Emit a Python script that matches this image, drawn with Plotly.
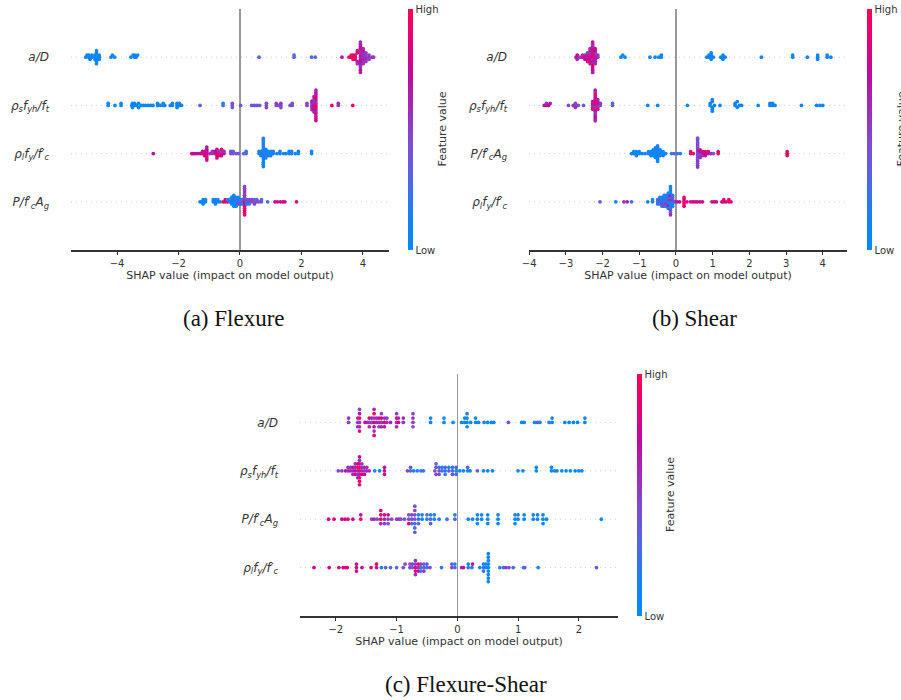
import numpy as np
import plotly.graph_objects as go

# ---------------- data: (SHAP value, normalised feature value) ----------------
# Panel (a) Flexure
flex_aD = [
    (-5.02, .05), (-4.98, .08),
    (-4.92, .05), (-4.92, .10), (-4.88, .05),
    (-4.82, .08), (-4.82, .05),
    (-4.72, .05), (-4.72, .10), (-4.72, .05),
    (-4.67, .05), (-4.67, .08), (-4.67, .05), (-4.67, .10), (-4.67, .05), (-4.67, .05), (-4.67, .08),
    (-4.58, .05), (-4.58, .10), (-4.58, .05),
    (-4.20, .05), (-4.15, .08), (-4.08, .05),
    (-3.55, .05), (-3.48, .08), (-3.43, .05), (-3.43, .05), (-3.38, .10), (-3.33, .05),
    (0.62, .30), (1.76, .35), (1.76, .30), (2.33, .30), (2.45, .28), (3.32, .70),
    (3.55, .95), (3.62, .95), (3.62, .90), (3.68, .95), (3.68, .92), (3.68, .95),
    (3.75, .90), (3.75, .95), (3.75, .85),
    (3.82, .85), (3.82, .65), (3.82, .90), (3.82, .60),
    (3.92, .55), (3.92, .65), (3.92, .70), (3.92, .60), (3.92, .75), (3.92, .55), (3.92, .65), (3.92, .90),
    (3.92, .60), (3.92, .70), (3.92, .55), (3.92, .65), (3.92, .75), (3.92, .60), (3.92, .65),
    (4.01, .55), (4.01, .60), (4.01, .65), (4.01, .55), (4.01, .60), (4.01, .70), (4.01, .55), (4.01, .60),
    (4.10, .55), (4.10, .50), (4.10, .60), (4.10, .55), (4.10, .50),
    (4.20, .55), (4.20, .50), (4.20, .55),
    (4.30, .55), (4.35, .50),
]
flex_rs = [
    (-4.29, .05), (-4.29, .10), (-4.07, .05), (-3.87, .08), (-3.87, .05),
    (-3.52, .05), (-3.50, .10), (-3.50, .05), (-3.43, .08), (-3.43, .05), (-3.36, .05), (-3.30, .10),
    (-3.30, .05), (-3.22, .05), (-3.15, .08), (-3.07, .05), (-2.98, .05), (-2.90, .10), (-2.83, .05),
    (-2.68, .05), (-2.68, .10), (-2.60, .08), (-2.50, .05), (-2.50, .15), (-2.45, .05),
    (-2.27, .20), (-2.20, .05), (-2.20, .10),
    (-2.05, .05), (-2.05, .10), (-2.05, .05), (-1.97, .08), (-1.97, .05), (-1.90, .10),
    (-1.30, .30), (-0.55, .35), (-0.55, .15), (-0.25, .40), (-0.25, .45), (-0.25, .35), (0.02, .35),
    (0.38, .35), (0.47, .40), (0.55, .40), (0.64, .35),
    (0.86, .45), (0.86, .40), (0.86, .50),
    (1.18, .45), (1.18, .50), (1.25, .40), (1.33, .45), (1.33, .55), (1.33, .40),
    (1.63, .40), (1.70, .45), (1.70, .40), (2.18, .50), (2.18, .45),
    (2.34, .60), (2.34, .50), (2.34, .55), (2.34, .70), (2.34, .60),
    (2.41, .70), (2.41, .55), (2.41, .90), (2.41, .60), (2.41, .75), (2.41, .50), (2.41, .65), (2.41, .85),
    (2.47, .90), (2.47, .60), (2.47, .95), (2.47, .55), (2.47, .70), (2.47, .85), (2.47, .60), (2.47, .75),
    (2.47, .90), (2.47, .65), (2.47, .55), (2.47, .80), (2.47, .95), (2.47, .60), (2.47, .70),
    (2.99, .90), (3.20, .55), (3.20, .60), (3.67, .95),
]
flex_rl = [
    (-2.82, .75),
    (-1.57, .75), (-1.52, .80), (-1.47, .75), (-1.42, .70), (-1.35, .80), (-1.28, .75), (-1.22, .80), (-1.22, .70),
    (-1.15, .75), (-1.15, .85), (-1.15, .70),
    (-1.08, .80), (-1.08, .70), (-1.08, .90), (-1.08, .75), (-1.08, .85), (-1.08, .70), (-1.08, .80),
    (-0.98, .60), (-0.90, .50), (-0.90, .55), (-0.82, .60), (-0.82, .75),
    (-0.75, .90), (-0.75, .80), (-0.75, .95), (-0.75, .75), (-0.75, .85),
    (-0.68, .80), (-0.68, .60), (-0.68, .90),
    (-0.60, .90), (-0.60, .50), (-0.60, .80), (-0.60, .95),
    (-0.52, .75), (-0.52, .60),
    (-0.30, .45), (-0.30, .40), (-0.22, .40), (-0.22, .35), (-0.12, .45), (-0.05, .35), (0.12, .30),
    (0.20, .30), (0.20, .25),
    (0.62, .10), (0.62, .20), (0.68, .05), (0.68, .15), (0.68, .10),
    (0.76, .05), (0.76, .10), (0.76, .15), (0.76, .05), (0.76, .20), (0.76, .10), (0.76, .05),
    (0.76, .25), (0.76, .10), (0.76, .05), (0.76, .15), (0.76, .10), (0.76, .05), (0.76, .20),
    (0.84, .10), (0.84, .05), (0.84, .20), (0.84, .10), (0.84, .15),
    (0.92, .05), (0.92, .10), (0.92, .20), (1.00, .05), (1.00, .15), (1.00, .10), (1.08, .05), (1.08, .20),
    (1.20, .10), (1.30, .05), (1.30, .15), (1.42, .10), (1.50, .05), (1.60, .10), (1.60, .05),
    (1.68, .20), (1.68, .10), (1.80, .05), (1.90, .10), (1.90, .05), (2.33, .05), (2.33, .10),
]
flex_P = [
    (-1.30, .05), (-1.25, .10), (-1.20, .05), (-1.20, .08), (-1.20, .05), (-1.12, .10), (-1.12, .05),
    (-0.87, .05), (-0.87, .10), (-0.80, .10), (-0.80, .05), (-0.80, .15), (-0.72, .05), (-0.72, .10), (-0.65, .10),
    (-0.55, .90), (-0.48, .90), (-0.48, .85), (-0.40, .85), (-0.40, .05), (-0.33, .05), (-0.33, .10),
    (-0.27, .05), (-0.27, .20), (-0.27, .10), (-0.27, .05),
    (-0.20, .05), (-0.20, .10), (-0.20, .05), (-0.20, .15), (-0.20, .05), (-0.20, .10),
    (-0.13, .10), (-0.13, .30), (-0.13, .05), (-0.13, .20), (-0.13, .10),
    (-0.06, .30), (-0.06, .05), (-0.06, .40), (-0.06, .10),
    (0.00, .35), (0.00, .10), (0.00, .45),
    (0.07, .40), (0.07, .30), (0.07, .05),
    (0.15, .90), (0.15, .50), (0.15, .95), (0.15, .45), (0.15, .85), (0.15, .60), (0.15, .90),
    (0.15, .40), (0.15, .95), (0.15, .55), (0.15, .85), (0.15, .50), (0.15, .90), (0.15, .45),
    (0.22, .45), (0.22, .35), (0.22, .10),
    (0.30, .40), (0.30, .45), (0.30, .20),
    (0.38, .45), (0.38, .50), (0.47, .45), (0.47, .40), (0.47, .50), (0.55, .45), (0.55, .35),
    (0.62, .45), (0.70, .40), (0.70, .30),
    (0.90, .30), (1.14, .75), (1.22, .80), (1.32, .75), (1.40, .85), (1.46, .80), (1.84, .95),
]

# Panel (b) Shear
shear_aD = [
    (-2.72, .70), (-2.69, .75), (-2.69, .60), (-2.62, .55), (-2.55, .85), (-2.55, .60),
    (-2.48, .90), (-2.48, .60), (-2.48, .70),
    (-2.41, .60), (-2.41, .95), (-2.41, .70), (-2.41, .50), (-2.41, .85),
    (-2.34, .90), (-2.34, .60), (-2.34, .75), (-2.34, .55), (-2.34, .95), (-2.34, .65), (-2.34, .80), (-2.34, .60),
    (-2.27, .70), (-2.27, .90), (-2.27, .55), (-2.27, .80), (-2.27, .65), (-2.27, .95), (-2.27, .60), (-2.27, .75),
    (-2.27, .85), (-2.27, .60), (-2.27, .90), (-2.27, .55), (-2.27, .70), (-2.27, .85), (-2.27, .65),
    (-2.20, .70), (-2.20, .60), (-2.20, .90), (-2.20, .55), (-2.20, .65), (-2.20, .80), (-2.20, .60), (-2.20, .70),
    (-2.13, .60), (-2.13, .55),
    (-1.50, .05), (-1.45, .10), (-1.39, .05), (-0.71, .10), (-0.57, .05), (-0.47, .10), (-0.40, .05), (-0.40, .08),
    (0.84, .05), (0.90, .10), (0.90, .05), (0.96, .05), (0.96, .10), (0.96, .05), (0.96, .08), (1.02, .05),
    (1.22, .05), (1.28, .10), (1.28, .05), (1.28, .08), (1.34, .05), (2.33, .05), (3.18, .05), (3.18, .10),
    (3.58, .05), (3.86, .05), (3.86, .10), (3.86, .05), (4.12, .05), (4.12, .08), (4.22, .05),
]
shear_rs = [
    (-3.59, .70), (-3.53, .75), (-3.53, .60), (-3.47, .70), (-3.43, .70), (-2.93, .40), (-2.80, .50),
    (-2.74, .50), (-2.74, .45), (-2.74, .60), (-2.66, .45), (-2.52, .35),
    (-2.27, .60), (-2.27, .80), (-2.27, .55), (-2.27, .70), (-2.27, .90),
    (-2.20, .70), (-2.20, .95), (-2.20, .55), (-2.20, .80), (-2.20, .60), (-2.20, .90), (-2.20, .65), (-2.20, .75),
    (-2.20, .55), (-2.20, .85), (-2.20, .60), (-2.20, .95), (-2.20, .70), (-2.20, .55), (-2.20, .80), (-2.20, .65),
    (-2.20, .60),
    (-2.13, .60), (-2.13, .90), (-2.13, .55), (-2.13, .70), (-2.13, .95), (-2.13, .60),
    (-2.06, .40), (-2.06, .55), (-1.73, .35), (-1.73, .30),
    (-0.77, .05), (-0.50, .05), (0.31, .05), (0.93, .05), (0.93, .10),
    (0.99, .05), (0.99, .10), (0.99, .05), (0.99, .08), (0.99, .05), (1.05, .05), (1.20, .05),
    (1.61, .05), (1.61, .10), (1.67, .05), (1.67, .08), (1.73, .05), (1.79, .05), (2.24, .05),
    (2.56, .05), (2.56, .10), (2.63, .05), (2.63, .08), (2.70, .05), (3.42, .05), (3.83, .05), (3.92, .10), (4.00, .05),
]
shear_P = [
    (-1.21, .05), (-1.15, .10), (-1.15, .05), (-1.08, .05), (-1.08, .10), (-1.08, .05), (-1.00, .05), (-1.00, .10),
    (-0.92, .05), (-0.84, .10), (-0.75, .05), (-0.75, .10),
    (-0.68, .05), (-0.68, .15), (-0.68, .05),
    (-0.62, .10), (-0.62, .05), (-0.62, .20), (-0.62, .05),
    (-0.56, .05), (-0.56, .10), (-0.56, .05), (-0.56, .15), (-0.56, .05), (-0.56, .10),
    (-0.50, .05), (-0.50, .10), (-0.50, .05), (-0.50, .20), (-0.50, .05), (-0.50, .10), (-0.50, .05),
    (-0.50, .15), (-0.50, .05),
    (-0.43, .05), (-0.43, .10), (-0.43, .20), (-0.43, .05),
    (-0.35, .10), (-0.35, .05), (-0.35, .15), (-0.28, .05),
    (-0.12, .20), (-0.05, .30), (0.04, .30), (0.12, .05), (0.40, .90), (0.40, .95), (0.47, .85),
    (0.59, .45), (0.59, .50), (0.59, .40), (0.59, .55), (0.59, .45), (0.59, .50), (0.59, .40), (0.59, .45),
    (0.59, .55), (0.59, .50), (0.59, .45), (0.59, .40), (0.59, .50), (0.59, .45), (0.59, .55), (0.59, .40),
    (0.66, .50), (0.66, .70), (0.66, .45), (0.66, .80), (0.66, .55),
    (0.73, .75), (0.73, .80), (0.73, .60), (0.80, .75), (0.80, .85), (0.80, .70),
    (0.88, .80), (0.88, .75), (0.95, .60), (1.02, .35), (1.15, .95), (1.15, .90),
    (3.03, .95), (3.03, .90), (3.03, .95),
]
shear_rl = [
    (-2.07, .35), (-1.64, .10), (-1.42, .60), (-1.33, .65), (-1.21, .25), (-0.77, .10), (-0.64, .20), (-0.64, .10),
    (-0.50, .10), (-0.50, .30), (-0.50, .20),
    (-0.44, .10), (-0.44, .50), (-0.44, .20), (-0.44, .05),
    (-0.38, .30), (-0.38, .05), (-0.38, .60), (-0.38, .10), (-0.38, .20),
    (-0.32, .10), (-0.32, .40), (-0.32, .05), (-0.32, .20), (-0.32, .50), (-0.32, .10),
    (-0.27, .20), (-0.27, .05), (-0.27, .60), (-0.27, .10), (-0.27, .30), (-0.27, .05),
    (-0.21, .10), (-0.21, .50), (-0.21, .05), (-0.21, .30), (-0.21, .70), (-0.21, .10), (-0.21, .20), (-0.21, .05),
    (-0.15, .05), (-0.15, .60), (-0.15, .10), (-0.15, .40), (-0.15, .05), (-0.15, .70), (-0.15, .20),
    (-0.15, .10), (-0.15, .50), (-0.15, .05), (-0.15, .30), (-0.15, .10), (-0.15, .60), (-0.15, .05),
    (-0.09, .10), (-0.09, .50), (-0.09, .05), (-0.09, .30), (-0.09, .10), (-0.09, .20),
    (-0.03, .50), (0.03, .70), (0.10, .75),
    (0.22, .90), (0.22, .95), (0.22, .90), (0.22, .85), (0.22, .95),
    (0.30, .85), (0.40, .80), (0.46, .80), (0.52, .85), (0.58, .80), (0.65, .80), (0.72, .80),
    (0.98, .80), (1.04, .75), (1.10, .75), (1.25, .80), (1.30, .85), (1.30, .90), (1.36, .80),
    (1.44, .85), (1.44, .90), (1.50, .90),
]

# Panel (c) Flexure-Shear
fs_aD = [
    (-1.79, .50), (-1.79, .55),
    (-1.64, .50), (-1.64, .55), (-1.64, .60),
    (-1.61, .55), (-1.61, .90), (-1.61, .60), (-1.61, .70), (-1.61, .85), (-1.61, .50),
    (-1.52, .80), (-1.48, .60), (-1.45, .55), (-1.45, .80), (-1.45, .60), (-1.41, .50), (-1.41, .60),
    (-1.37, .90), (-1.37, .50), (-1.37, .70), (-1.37, .95), (-1.37, .55), (-1.37, .60), (-1.37, .85),
    (-1.33, .60), (-1.33, .55), (-1.29, .60), (-1.29, .85), (-1.29, .50),
    (-1.25, .55), (-1.25, .80), (-1.25, .60), (-1.25, .50),
    (-1.20, .90), (-1.20, .55), (-1.20, .65), (-1.16, .60), (-1.16, .55), (-1.10, .60),
    (-1.00, .55), (-1.00, .85), (-1.00, .60), (-1.00, .50), (-0.97, .80), (-0.97, .60),
    (-0.89, .55), (-0.89, .60), (-0.73, .50), (-0.73, .55), (-0.73, .45), (-0.73, .50),
    (-0.44, .05), (-0.44, .10), (-0.22, .05), (-0.22, .10), (-0.07, .05), (0.07, .05), (0.12, .10), (0.12, .05),
    (0.16, .05), (0.16, .10), (0.16, .05), (0.16, .15), (0.22, .05), (0.30, .10), (0.30, .05), (0.35, .05),
    (0.44, .05), (0.50, .10), (0.56, .05), (0.60, .05), (0.84, .40), (1.06, .05), (1.10, .10), (1.27, .05),
    (1.32, .40), (1.36, .05), (1.51, .05), (1.56, .10), (1.56, .05), (1.77, .05), (1.84, .05), (1.91, .10),
    (1.98, .05), (2.10, .05), (2.10, .10),
]
fs_rs = [
    (-1.96, .50), (-1.90, .55), (-1.84, .70), (-1.80, .60), (-1.80, .55), (-1.76, .65), (-1.76, .50),
    (-1.72, .60), (-1.72, .80), (-1.72, .55), (-1.68, .70), (-1.68, .55), (-1.68, .85), (-1.68, .60),
    (-1.64, .60), (-1.64, .90), (-1.64, .55), (-1.64, .75), (-1.64, .65),
    (-1.61, .90), (-1.61, .95), (-1.61, .60), (-1.61, .90), (-1.61, .85), (-1.61, .55), (-1.61, .95),
    (-1.61, .70), (-1.61, .90),
    (-1.57, .60), (-1.57, .55), (-1.57, .85), (-1.57, .50), (-1.53, .55), (-1.53, .60), (-1.53, .70),
    (-1.49, .60), (-1.49, .55), (-1.45, .60),
    (-1.36, .10), (-1.28, .10), (-1.20, .75), (-1.20, .70), (-1.20, .80),
    (-0.82, .45), (-0.77, .30), (-0.77, .40), (-0.72, .10), (-0.66, .10), (-0.60, .30), (-0.56, .20),
    (-0.37, .45), (-0.35, .40), (-0.35, .50), (-0.35, .35), (-0.30, .40), (-0.30, .20), (-0.30, .45),
    (-0.25, .30), (-0.25, .10), (-0.20, .10), (-0.20, .35), (-0.20, .20), (-0.14, .40), (-0.14, .10),
    (-0.08, .30), (-0.08, .10), (-0.08, .45), (-0.02, .10), (-0.02, .35), (-0.02, .20),
    (0.04, .10), (0.10, .05), (0.17, .05), (0.17, .30), (0.21, .05), (0.33, .35), (0.43, .05), (0.50, .10),
    (0.58, .05), (1.00, .05), (1.08, .05), (1.30, .05), (1.30, .10), (1.55, .05), (1.55, .10), (1.60, .05),
    (1.64, .05), (1.72, .05), (1.79, .05), (1.86, .05), (1.94, .05), (2.00, .05), (2.05, .05),
]
fs_P = [
    (-2.12, .75), (-2.03, .90), (-1.90, .75), (-1.85, .80), (-1.80, .90), (-1.72, .70), (-1.59, .90), (-1.59, .70),
    (-1.41, .50), (-1.37, .60), (-1.32, .45),
    (-1.26, .90), (-1.26, .85), (-1.26, .60), (-1.26, .90),
    (-1.20, .60), (-1.20, .80), (-1.20, .50), (-1.14, .50), (-1.14, .85), (-1.14, .45), (-1.08, .45),
    (-1.00, .50), (-0.96, .55), (-0.93, .45), (-0.87, .40),
    (-0.80, .50), (-0.80, .40), (-0.80, .85), (-0.75, .45), (-0.75, .50), (-0.75, .30),
    (-0.70, .40), (-0.70, .45), (-0.70, .30), (-0.70, .50), (-0.70, .20), (-0.70, .35), (-0.70, .40),
    (-0.64, .20), (-0.64, .10), (-0.64, .30), (-0.58, .10), (-0.58, .20), (-0.50, .10), (-0.50, .30),
    (-0.44, .30), (-0.44, .10), (-0.44, .40), (-0.38, .10), (-0.38, .20), (-0.30, .20), (-0.17, .20),
    (-0.04, .30), (-0.04, .15),
    (0.18, .05), (0.25, .10), (0.33, .05), (0.33, .10), (0.33, .05), (0.40, .05), (0.40, .10),
    (0.50, .05), (0.50, .10), (0.50, .05), (0.67, .05), (0.67, .10), (0.67, .05),
    (0.95, .05), (0.95, .10), (0.95, .05), (1.00, .05), (1.00, .10), (1.10, .05), (1.10, .10),
    (1.25, .05), (1.25, .10), (1.32, .05), (1.32, .10), (1.41, .05), (1.41, .10), (1.41, .05),
    (1.47, .05), (2.37, .05),
]
fs_rl = [
    (-2.36, .75), (-2.11, .75), (-1.95, .80), (-1.88, .85), (-1.84, .75), (-1.81, .90),
    (-1.66, .90), (-1.66, .75), (-1.66, .80), (-1.57, .75), (-1.42, .90), (-1.33, .85), (-1.33, .90),
    (-1.25, .15), (-1.18, .30), (-1.10, .25), (-1.00, .30), (-0.89, .40), (-0.86, .50),
    (-0.78, .50), (-0.78, .45), (-0.74, .40), (-0.74, .50),
    (-0.69, .90), (-0.69, .50), (-0.69, .85), (-0.69, .55), (-0.69, .60),
    (-0.64, .55), (-0.64, .90), (-0.64, .70), (-0.60, .30), (-0.60, .50), (-0.60, .20),
    (-0.55, .30), (-0.55, .40), (-0.55, .60), (-0.50, .15), (-0.50, .40), (-0.45, .45),
    (-0.26, .20), (-0.09, .50), (-0.09, .35), (-0.04, .30), (-0.04, .15), (0.07, .60), (0.10, .70),
    (0.18, .10), (0.18, .15), (0.24, .20), (0.25, .70), (0.37, .15),
    (0.43, .10), (0.43, .05), (0.43, .20), (0.47, .10), (0.47, .05),
    (0.51, .05), (0.51, .10), (0.51, .05), (0.51, .15), (0.51, .05), (0.51, .10), (0.51, .05), (0.51, .10), (0.51, .05),
    (0.70, .10), (0.76, .35), (0.80, .50), (0.85, .40), (0.92, .30), (1.09, .20), (1.11, .30), (1.33, .10),
    (2.29, .40),
]

label_aD = "<i>a/D</i>"
label_rs = "<i>ρ<sub>s</sub>f<sub>yh</sub>/f<sub>t</sub></i>"
label_rl = "<i>ρ<sub>l</sub>f<sub>y</sub>/f′<sub>c</sub></i>"
label_P = "<i>P/f′<sub>c</sub>A<sub>g</sub></i>"

panels = [
    # rows top -> bottom, x range, dtick, caption
    dict(rows=[(label_aD, flex_aD), (label_rs, flex_rs), (label_rl, flex_rl), (label_P, flex_P)],
         xr=[-5.5, 4.85], dtick=2, caption="(a) Flexure"),
    dict(rows=[(label_aD, shear_aD), (label_rs, shear_rs), (label_P, shear_P), (label_rl, shear_rl)],
         xr=[-4.005, 4.66], dtick=1, caption="(b) Shear"),
    dict(rows=[(label_aD, fs_aD), (label_rs, fs_rs), (label_P, fs_P), (label_rl, fs_rl)],
         xr=[-2.59, 2.645], dtick=1, caption="(c) Flexure-Shear"),
]

# ---------------- layout geometry (pixels) ----------------
W, H = 901, 700
geom = [
    dict(x0=71, x1=389, ytop=9, ybot=250, cbx=408, cap=(234, 318), fv=442),
    dict(x0=529, x1=847, ytop=9, ybot=250, cbx=867, cap=(694, 318), fv=901),
    dict(x0=300, x1=618, ytop=374, ybot=616, cbx=637, cap=(466, 684), fv=671),
]

colorscale = [[0.0, "#008bfb"], [0.15, "#1a80f6"], [0.30, "#5565e6"], [0.45, "#7f4bce"],
              [0.60, "#a22ab4"], [0.72, "#bd0ba0"], [0.86, "#e20378"], [1.0, "#ff0052"]]


def beeswarm(vals, row_height=0.4, nbins=100):
    v = np.asarray(vals, float)
    n = len(v)
    quant = np.round(nbins * (v - v.min()) / (v.max() - v.min() + 1e-8))
    inds = np.argsort(quant, kind="stable")
    layer, last = 0, -1
    ys = np.zeros(n)
    for i in inds:
        if quant[i] != last:
            layer = 0
        ys[i] = np.ceil(layer / 2) * ((layer % 2) * 2 - 1)
        layer += 1
        last = quant[i]
    ys *= 0.9 * (row_height / np.max(ys + 1))
    return ys


fig = go.Figure()
TXT = "#333333"
FONT = "DejaVu Sans"
shapes, annotations = [], []
layout = {}

for k, (p, g) in enumerate(zip(panels, geom)):
    sfx = "" if k == 0 else str(k + 1)
    xa, ya, ca = "x" + sfx, "y" + sfx, "coloraxis" + sfx
    nrows = len(p["rows"])
    for r, (lab, pts) in enumerate(p["rows"]):
        pos = nrows - 1 - r
        sv = [a for a, _ in pts]
        fv = [b for _, b in pts]
        ys = beeswarm(sv)
        fig.add_trace(go.Scatter(
            x=sv, y=pos + ys, mode="markers", xaxis=xa, yaxis=ya, showlegend=False,
            hoverinfo="skip",
            marker=dict(size=3.7, color=fv, coloraxis=ca, line=dict(width=0)),
        ))
        shapes.append(dict(type="line", xref=xa + " domain", yref=ya, x0=0, x1=1, y0=pos, y1=pos,
                           line=dict(color="#cccccc", width=1, dash="1px,4px"), layer="below"))
    ytop = 1 - g["ytop"] / H
    ybot = 1 - g["ybot"] / H
    layout["xaxis" + sfx] = dict(
        domain=[g["x0"] / W, g["x1"] / W], anchor=ya, range=p["xr"], dtick=p["dtick"], tick0=0,
        showline=True, linecolor=TXT, linewidth=2, ticks="outside", ticklen=3, tickwidth=1,
        tickcolor=TXT, tickfont=dict(family=FONT, size=10, color=TXT),
        zeroline=True, zerolinecolor="#999999", zerolinewidth=1.5, showgrid=False,
        title=dict(text="SHAP value (impact on model output)", standoff=3,
                   font=dict(family=FONT, size=11, color=TXT)),
        automargin=False, fixedrange=True,
    )
    layout["yaxis" + sfx] = dict(
        domain=[ybot, ytop], anchor=xa, range=[-1, nrows], showline=False, showgrid=False,
        zeroline=False, tickvals=list(range(nrows)),
        ticktext=[lab for lab, _ in p["rows"]][::-1], ticks="", ticklabelstandoff=21,
        tickfont=dict(family=FONT, size=12, color=TXT), automargin=False, fixedrange=True,
    )
    layout[ca] = dict(
        cmin=0, cmax=1, colorscale=colorscale,
        colorbar=dict(x=g["cbx"] / W, xanchor="left", xpad=0, ypad=0, thickness=5,
                      thicknessmode="pixels", lenmode="fraction", len=ytop - ybot,
                      y=(ytop + ybot) / 2, yanchor="middle", outlinewidth=0,
                      tickvals=[0, 1], ticktext=["Low", "High"], ticks="",
                      tickfont=dict(family=FONT, size=10, color=TXT)),
    )
    annotations.append(dict(text="Feature value", textangle=-90, xref="paper", yref="paper",
                            x=g["fv"] / W, y=(ytop + ybot) / 2, showarrow=False,
                            xanchor="center", yanchor="middle",
                            font=dict(family=FONT, size=11, color=TXT)))
    annotations.append(dict(text=p["caption"], xref="paper", yref="paper",
                            x=g["cap"][0] / W, y=1 - g["cap"][1] / H, showarrow=False,
                            xanchor="center", yanchor="middle",
                            font=dict(family="Liberation Serif", size=23, color="#111111")))

fig.update_layout(
    width=W, height=H, margin=dict(l=0, r=0, t=0, b=0), paper_bgcolor="white",
    plot_bgcolor="white", shapes=shapes, annotations=annotations, **layout,
)
fig.write_html("out.html", config={"displayModeBar": False, "staticPlot": True},
               post_script="document.body.style.margin='0';document.body.style.overflow='hidden';")
